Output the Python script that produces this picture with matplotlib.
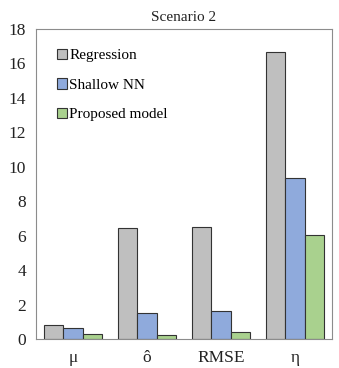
import matplotlib
matplotlib.use("Agg")
import matplotlib.pyplot as plt
import numpy as np

CATEGORIES = ["\u03bc", "\u00f4", "RMSE", "\u03b7"]
SERIES = ["Regression", "Shallow NN", "Proposed model"]
REGRESSION = [0.80, 6.43, 6.48, 16.68]
SHALLOW_NN = [0.66, 1.51, 1.65, 9.33]
PROPOSED = [0.31, 0.25, 0.39, 6.03]

COLORS = ["#BFBFBF", "#8FAADC", "#A9D18E"]
TEXT = "#222222"

plt.rcParams["font.family"] = ["Liberation Serif", "DejaVu Serif"]

fig = plt.figure(figsize=(3.39, 3.68), dpi=100)
ax = fig.add_axes([36 / 339, 29 / 368, 296 / 339, 310 / 368])

xs = np.arange(len(CATEGORIES))
width = 0.26
for i, (vals, name) in enumerate(zip([REGRESSION, SHALLOW_NN, PROPOSED], SERIES)):
    ax.bar(xs + (i - 1) * width, vals, width=width, color=COLORS[i],
           edgecolor="#333333", linewidth=0.8, label=name)

ax.set_xlim(-0.5, len(CATEGORIES) - 0.5)
ax.set_ylim(0, 18)
ax.set_yticks(np.arange(0, 19, 2))
ax.set_xticks(xs)
ax.set_xticklabels(CATEGORIES)
ax.tick_params(length=0, labelsize=12.5, colors=TEXT, pad=7)
ax.tick_params(axis="x", pad=8)
for spine in ax.spines.values():
    spine.set_color("#8C8C8C")
    spine.set_linewidth(0.8)

ax.set_title("Scenario 2", fontsize=11, color=TEXT, pad=6)

ax.legend(loc="upper left", frameon=False, fontsize=11, handlelength=0.65,
          handleheight=0.65, handletextpad=0.15, labelspacing=1.05,
          borderaxespad=0.6, bbox_to_anchor=(0.02, 0.985))

fig.savefig("out.png", dpi=100)
